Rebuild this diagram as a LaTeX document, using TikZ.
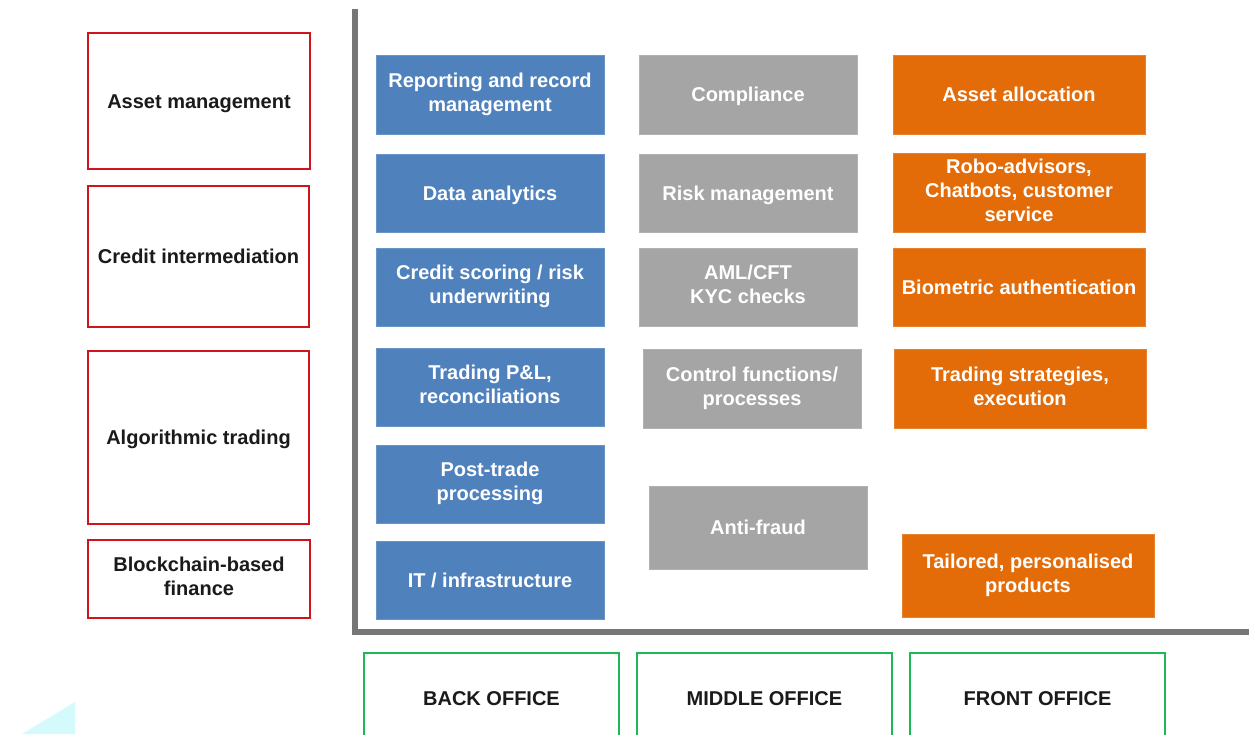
\documentclass[tikz,border=0pt]{standalone}
\usepackage{fontspec}
\setmainfont{Liberation Sans}
\definecolor{cblue}{HTML}{4F81BD}
\definecolor{cgray}{HTML}{A5A5A5}
\definecolor{corange}{HTML}{E36C09}
\definecolor{cred}{HTML}{D0141E}
\definecolor{cgreen}{HTML}{1DB954}
\definecolor{caxis}{HTML}{767676}
\definecolor{ccyan}{HTML}{D4FAFC}
\definecolor{ctext}{HTML}{1A1A1A}
\newcommand{\boxstrut}{\rule[-5pt]{0pt}{24pt}}
\tikzset{
  txt/.style={font=\fontsize{20}{24}\selectfont\bfseries, align=center, inner sep=0pt,
    execute at begin node=\boxstrut, execute at end node=\boxstrut},
  fbox/.style={txt, text=white, draw=#1!85!white, line width=0.8pt, fill=#1},
  bluebox/.style={fbox=cblue, minimum width=228pt, minimum height=78pt},
  graybox/.style={fbox=cgray, minimum width=218pt, minimum height=78pt},
  orangebox/.style={fbox=corange, minimum width=252pt, minimum height=78pt},
  redbox/.style={txt, text=ctext, draw=cred, line width=2.5pt, minimum width=221pt},
  greenbox/.style={txt, text=ctext, draw=cgreen, line width=2.5pt, minimum width=255pt, minimum height=90pt},
  axisline/.style={draw=caxis, line width=6pt}
}
\begin{document}
\begin{tikzpicture}[x=1pt, y=-1pt]
\useasboundingbox (0,0) rectangle (1249,734);
\clip (0,0) rectangle (1249,734);
\fill[white] (0,0) rectangle (1249,734);

% light cyan corner triangle
\fill[ccyan] (22,734) -- (75,702) -- (75,734) -- cycle;

% axes
\coordinate (axtop) at (355,9);
\coordinate (axcorner) at (355,632);
\coordinate (axright) at (1252,632);
\draw[axisline] (axtop) -- (axcorner) -- (axright);

% left red boxes
\node[redbox, minimum width=222pt, minimum height=136pt] (r1) at (199,101) {Asset management};
\node[redbox, minimum height=141pt] (r2) at (198.5,256.5) {Credit intermediation};
\node[redbox, minimum height=173pt] (r3) at (198.5,437.5) {Algorithmic trading};
\node[redbox, minimum width=222pt, minimum height=78pt] (r4) at (199,579) {Blockchain-based\\finance};

% blue column
\node[bluebox, minimum height=79pt] (b1) at (490,94.5) {Reporting and record\\management};
\node[bluebox] (b2) at (490,193) {Data analytics};
\node[bluebox] (b3) at (490,287) {Credit scoring / risk\\underwriting};
\node[bluebox] (b4) at (490,387) {Trading P\&L,\\reconciliations};
\node[bluebox] (b5) at (490,484) {Post-trade\\processing};
\node[bluebox] (b6) at (490,580) {IT / infrastructure};

% gray column
\node[graybox, minimum height=79pt] (g1) at (748,94.5) {Compliance};
\node[graybox] (g2) at (748,193) {Risk management};
\node[graybox] (g3) at (748,287) {AML/CFT\\KYC checks};
\node[graybox, minimum height=79pt] (g4) at (752,388.5) {Control functions/\\processes};
\node[graybox, minimum height=83pt] (g5) at (758,527.5) {Anti-fraud};

% orange column
\node[orangebox, minimum height=79pt] (o1) at (1019,94.5) {Asset allocation};
\node[orangebox, minimum height=79pt] (o2) at (1019,192.5) {Robo-advisors,\\Chatbots, customer\\service};
\node[orangebox] (o3) at (1019,287) {Biometric authentication};
\node[orangebox, minimum height=79pt] (o4) at (1020,388.5) {Trading strategies,\\execution};
\node[orangebox, minimum height=83pt] (o5) at (1028,575.5) {Tailored, personalised\\products};

% bottom green boxes
\node[greenbox] (back) at (491.5,698) {BACK OFFICE};
\node[greenbox] (middle) at (764.5,698) {MIDDLE OFFICE};
\node[greenbox] (front) at (1037.5,698) {FRONT OFFICE};
\end{tikzpicture}
\end{document}
